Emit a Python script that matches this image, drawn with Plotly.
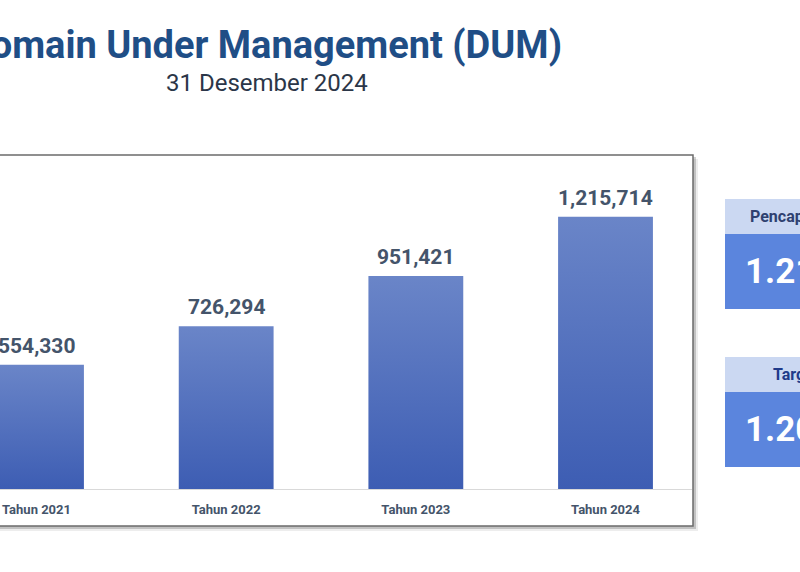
import plotly.graph_objects as go

# chart data
years = ["Tahun 2021", "Tahun 2022", "Tahun 2023", "Tahun 2024"]
dum_values = [554330, 726294, 951421, 1215714]

# side cards (cut off at the right edge of the slide)
card_titles = ["Pencapaian", "Target"]
card_values = ["1.215.714", "1.200.000"]

W, H = 800, 572


def px(x):
    return x / W


def py(y):
    return 1 - y / H


BAR_HALF = 0.25
fig = go.Figure()

# bars with a vertical gradient, one fill trace per bar
for i, v in enumerate(dum_values):
    fig.add_trace(go.Scatter(
        x=[i - BAR_HALF, i + BAR_HALF, i + BAR_HALF, i - BAR_HALF, i - BAR_HALF],
        y=[0, 0, v, v, 0],
        mode="lines",
        fill="toself",
        line=dict(width=0, color="rgba(0,0,0,0)"),
        fillgradient=dict(type="vertical", start=0, stop=v,
                          colorscale=[[0, "#3d5db3"], [1, "#6a85c8"]]),
        hoverinfo="skip",
        showlegend=False,
    ))

shapes = []
# drop shadow + chart frame
shapes.append(dict(type="rect", xref="paper", yref="paper", layer="below",
                   x0=px(-20), x1=px(698), y0=py(531), y1=py(159),
                   fillcolor="rgba(0,0,0,0.07)", line=dict(width=0)))
shapes.append(dict(type="rect", xref="paper", yref="paper", layer="below",
                   x0=px(-20), x1=px(696), y0=py(529), y1=py(157),
                   fillcolor="rgba(0,0,0,0.18)", line=dict(width=0)))
shapes.append(dict(type="rect", xref="paper", yref="paper", layer="below",
                   x0=px(-20), x1=px(693), y0=py(526), y1=py(155),
                   fillcolor="white", line=dict(color="#6b6b6b", width=1.5)))

annotations = [
    dict(text="Domain Under Management (DUM)", xref="paper", yref="paper",
         x=px(564), y=py(45), xanchor="right", yanchor="middle", showarrow=False,
         font=dict(family="Roboto", size=38, color="#1f4e86", weight=700)),
    dict(text="31 Desember 2024", xref="paper", yref="paper",
         x=px(267), y=py(83), xanchor="center", yanchor="middle", showarrow=False,
         font=dict(family="Roboto", size=24, color="#2b3648")),
]

# value labels above bars
for i, v in enumerate(dum_values):
    annotations.append(dict(text=f"{v:,}", x=i, y=v, xref="x", yref="y",
                            xanchor="center", yanchor="bottom", yshift=5, showarrow=False,
                            font=dict(family="Roboto", size=21, color="#44546a", weight=700)))

# cards on the right
card_tops = [199, 357]
title_x = [748, 771]
title_colors = ["#2f4170", "#203a8a"]
for k, (t, val) in enumerate(zip(card_titles, card_values)):
    top = card_tops[k]
    shapes.append(dict(type="rect", xref="paper", yref="paper",
                       x0=px(725), x1=px(900), y0=py(top + 35), y1=py(top),
                       fillcolor="#cbd8f2", line=dict(width=0)))
    shapes.append(dict(type="rect", xref="paper", yref="paper",
                       x0=px(725), x1=px(900), y0=py(top + 110), y1=py(top + 35),
                       fillcolor="#5b85dd", line=dict(width=0)))
    annotations.append(dict(text=t, xref="paper", yref="paper",
                            x=px(title_x[k]), y=py(top + 17), xanchor="left", yanchor="middle",
                            showarrow=False,
                            font=dict(family="Roboto", size=16, color=title_colors[k], weight=700)))
    annotations.append(dict(text=val, xref="paper", yref="paper",
                            x=px(743), y=py(top + 72), xanchor="left", yanchor="middle",
                            showarrow=False,
                            font=dict(family="Roboto", size=35, color="white", weight=700)))

# px per unit: baseline y=489, tallest bar top y=216.7
ymax = (489 - 160) / ((489 - 216.7) / max(dum_values))
fig.update_layout(
    width=W, height=H,
    margin=dict(l=0, r=0, t=0, b=0),
    paper_bgcolor="white",
    plot_bgcolor="rgba(0,0,0,0)",
    shapes=shapes,
    annotations=annotations,
    xaxis=dict(
        domain=[0, px(692)],
        range=[-36.5 / 189.67, (692 - 36.5) / 189.67],
        tickvals=list(range(len(years))),
        ticktext=years,
        showgrid=False, zeroline=False,
        showline=True, linecolor="#d9d9d9", linewidth=1,
        ticks="outside", ticklen=8, tickcolor="rgba(0,0,0,0)",
        tickfont=dict(family="Roboto", size=13, color="#44546a", weight=700),
        fixedrange=True,
    ),
    yaxis=dict(
        domain=[py(489), py(160)],
        range=[0, ymax],
        visible=False,
        fixedrange=True,
    ),
)

fig.write_html("out.html", config={"displayModeBar": False},
               post_script="document.body.style.margin='0px';")
